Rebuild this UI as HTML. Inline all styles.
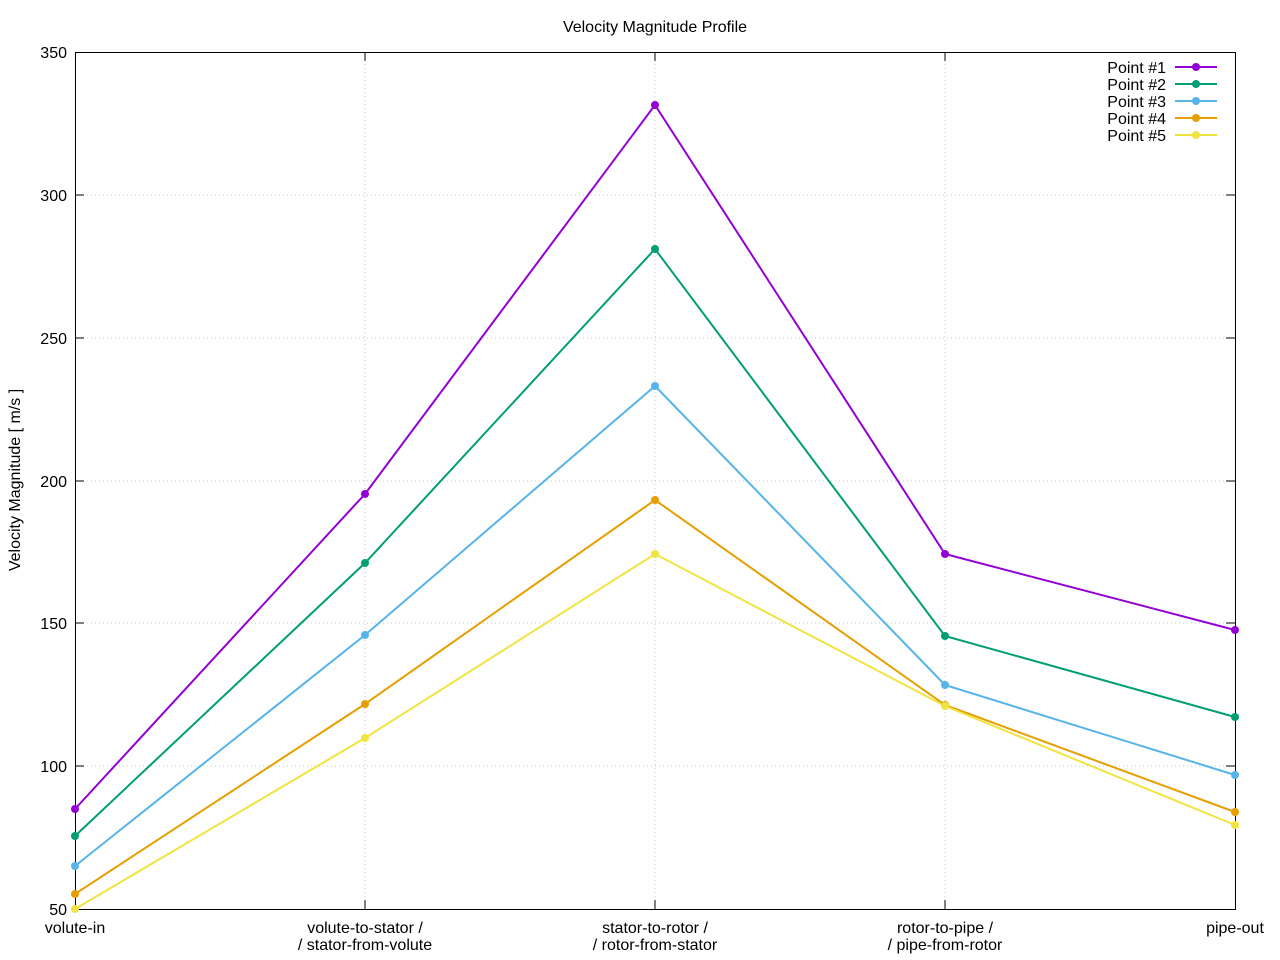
<!DOCTYPE html>
<html><head><meta charset="utf-8"><style>body{margin:0;background:#fff}svg{display:block}text{font-family:"Liberation Sans",sans-serif;font-size:16px;fill:#000}</style></head><body>
<svg width="1280" height="960" xmlns="http://www.w3.org/2000/svg">
<rect width="1280" height="960" fill="#fff"/>
<g stroke="#c8c8c8" stroke-width="1" stroke-dasharray="1,3">
<line x1="75" y1="195" x2="1235" y2="195"/><line x1="75" y1="338" x2="1235" y2="338"/><line x1="75" y1="481" x2="1235" y2="481"/><line x1="75" y1="623" x2="1235" y2="623"/><line x1="75" y1="766" x2="1235" y2="766"/>
<line x1="365" y1="52" x2="365" y2="909"/><line x1="655" y1="52" x2="655" y2="909"/><line x1="945" y1="52" x2="945" y2="909"/>
</g>
<g stroke="#000" stroke-width="1">
<rect x="75.5" y="52.5" width="1160" height="857" fill="none"/>
<path d="M75 195h9M75 338h9M75 481h9M75 623h9M75 766h9M1235 195h-9M1235 338h-9M1235 481h-9M1235 623h-9M1235 766h-9M365 909v-9M655 909v-9M945 909v-9M365 52v9M655 52v9M945 52v9"/>
</g>
<g text-anchor="end">
<text x="67" y="58">350</text><text x="67" y="201">300</text><text x="67" y="344">250</text><text x="67" y="487">200</text><text x="67" y="629">150</text><text x="67" y="772">100</text><text x="67" y="915">50</text>
</g>
<g text-anchor="middle">
<text x="75" y="933">volute-in</text>
<text x="365" y="933">volute-to-stator /</text><text x="365" y="950">/ stator-from-volute</text>
<text x="655" y="933">stator-to-rotor /</text><text x="655" y="950">/ rotor-from-stator</text>
<text x="945" y="933">rotor-to-pipe /</text><text x="945" y="950">/ pipe-from-rotor</text>
<text x="1235" y="933">pipe-out</text>
<text x="655" y="32">Velocity Magnitude Profile</text>
<text x="0" y="0" transform="translate(20,480) rotate(-90)">Velocity Magnitude [ m/s ]</text>
</g>
<g fill="none" stroke-width="2">
<polyline stroke="#9400d3" points="75,809 365,494 655,105 945,554 1235,630"/>
<polyline stroke="#009e73" points="75,836 365,563 655,249 945,636 1235,717"/>
<polyline stroke="#56b4e9" points="75,866 365,635 655,386 945,685 1235,775"/>
<polyline stroke="#e69f00" points="75,894 365,704 655,500 945,705 1235,812"/>
<polyline stroke="#f0e442" points="75,909 365,738 655,554 945,706 1235,825"/>
</g>
<g fill="#9400d3"><circle cx="75" cy="809" r="4"/><circle cx="365" cy="494" r="4"/><circle cx="655" cy="105" r="4"/><circle cx="945" cy="554" r="4"/><circle cx="1235" cy="630" r="4"/></g>
<g fill="#009e73"><circle cx="75" cy="836" r="4"/><circle cx="365" cy="563" r="4"/><circle cx="655" cy="249" r="4"/><circle cx="945" cy="636" r="4"/><circle cx="1235" cy="717" r="4"/></g>
<g fill="#56b4e9"><circle cx="75" cy="866" r="4"/><circle cx="365" cy="635" r="4"/><circle cx="655" cy="386" r="4"/><circle cx="945" cy="685" r="4"/><circle cx="1235" cy="775" r="4"/></g>
<g fill="#e69f00"><circle cx="75" cy="894" r="4"/><circle cx="365" cy="704" r="4"/><circle cx="655" cy="500" r="4"/><circle cx="945" cy="705" r="4"/><circle cx="1235" cy="812" r="4"/></g>
<g fill="#f0e442"><circle cx="75" cy="909" r="4"/><circle cx="365" cy="738" r="4"/><circle cx="655" cy="554" r="4"/><circle cx="945" cy="706" r="4"/><circle cx="1235" cy="825" r="4"/></g>
<g text-anchor="end">
<text x="1166" y="73">Point #1</text><text x="1166" y="90">Point #2</text><text x="1166" y="107">Point #3</text><text x="1166" y="124">Point #4</text><text x="1166" y="141">Point #5</text>
</g>
<g stroke-width="2">
<line x1="1175" y1="67" x2="1217" y2="67" stroke="#9400d3"/><circle cx="1196" cy="67" r="4" fill="#9400d3"/>
<line x1="1175" y1="84" x2="1217" y2="84" stroke="#009e73"/><circle cx="1196" cy="84" r="4" fill="#009e73"/>
<line x1="1175" y1="101" x2="1217" y2="101" stroke="#56b4e9"/><circle cx="1196" cy="101" r="4" fill="#56b4e9"/>
<line x1="1175" y1="118" x2="1217" y2="118" stroke="#e69f00"/><circle cx="1196" cy="118" r="4" fill="#e69f00"/>
<line x1="1175" y1="135" x2="1217" y2="135" stroke="#f0e442"/><circle cx="1196" cy="135" r="4" fill="#f0e442"/>
</g>
</svg>
</body></html>
